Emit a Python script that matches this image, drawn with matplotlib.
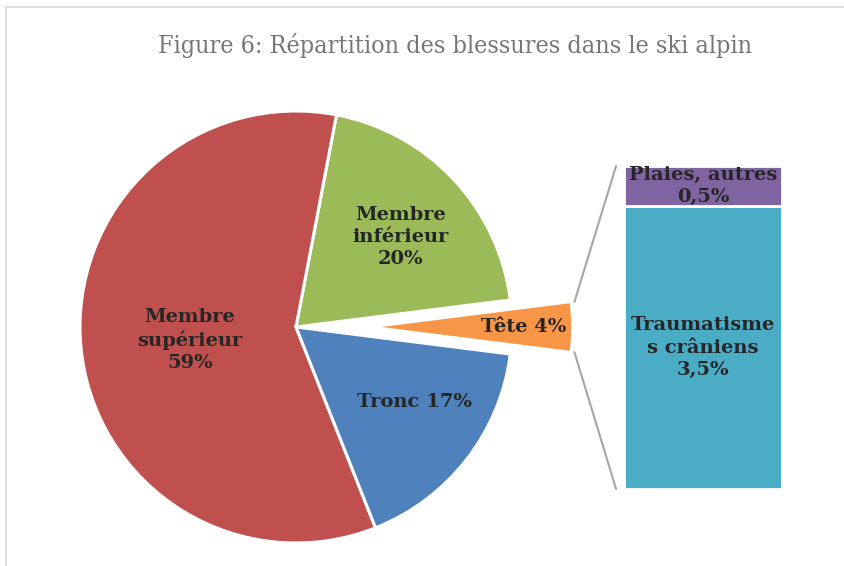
import matplotlib.pyplot as plt
from matplotlib.patches import ConnectionPatch
import numpy as np

# données
pie_labels = ['Tête 4%', 'Membre\ninférieur\n20%', 'Membre\nsupérieur\n59%', 'Tronc 17%']
pie_values = [4, 20, 59, 17]
pie_colors = ['#F79646', '#9BBB59', '#C0504D', '#4F81BD']

bar_labels = ['Traumatisme\ns crâniens\n3,5%', 'Plaies, autres\n0,5%']
bar_values = [3.5, 0.5]
bar_colors = ['#4BACC6', '#8064A2']

titre = 'Figure 6: Répartition des blessures dans le ski alpin'

fig = plt.figure(figsize=(8.45, 5.66), dpi=100)
ax = fig.add_axes([0, 0, 1, 1])

# camembert
cx, cy, R = 296, 239, 216
start = -pie_values[0] / 100 * 360 / 2
wedges, _ = ax.pie(pie_values, colors=pie_colors, startangle=start, counterclock=True,
                   center=(cx, cy), radius=R, explode=[79, 0, 0, 0],
                   wedgeprops=dict(edgecolor='white', linewidth=2.2))
wedges[0].set_radius(197)
wedges[0].set_linewidth(1.2)
ax.set_xlim(0, 845)
ax.set_ylim(0, 566)
ax.axis('off')

# cadre gris (haut et gauche)
ax.plot([6, 845], [559, 559], color='#D9D9D9', lw=1.2)
ax.plot([6, 6], [0, 559], color='#D9D9D9', lw=1.2)

ax.text(455, 521, titre, ha='center', va='center', fontsize=18,
        color='#767676', family='DejaVu Serif', fontstretch='condensed')

lbl = dict(ha='center', va='center', fontsize=14, fontweight='bold',
           family='DejaVu Serif', color='#262626', linespacing=1.3)
pos = [(524, 239), (401, 329), (190, 226), (415, 164)]
for (x, y), t in zip(pos, pie_labels):
    ax.text(x, y, t, **lbl)

# barre empilée
bx = fig.add_axes([624 / 845, 77 / 566, 158 / 845, 323 / 566])
bottom = 0
for v, c, t in zip(bar_values, bar_colors, bar_labels):
    bx.bar(0, v, bottom=bottom, width=1, color=c, edgecolor='white', linewidth=2)
    bx.text(0, bottom + v / 2, t, **lbl)
    bottom += v
bx.set_xlim(-0.5, 0.5)
bx.set_ylim(0, sum(bar_values))
bx.axis('off')

# lignes de liaison
w = wedges[0]
for ang, yb in [(w.theta2, sum(bar_values)), (w.theta1, 0)]:
    px = w.center[0] + (w.r + 4) * np.cos(np.radians(ang))
    py = w.center[1] + (w.r + 4) * np.sin(np.radians(ang))
    con = ConnectionPatch(xyA=(px, py), coordsA=ax.transData,
                          xyB=(-0.55, yb), coordsB=bx.transData,
                          color='#A6A6A6', lw=1.5)
    fig.add_artist(con)

fig.savefig('out.png', dpi=100)
